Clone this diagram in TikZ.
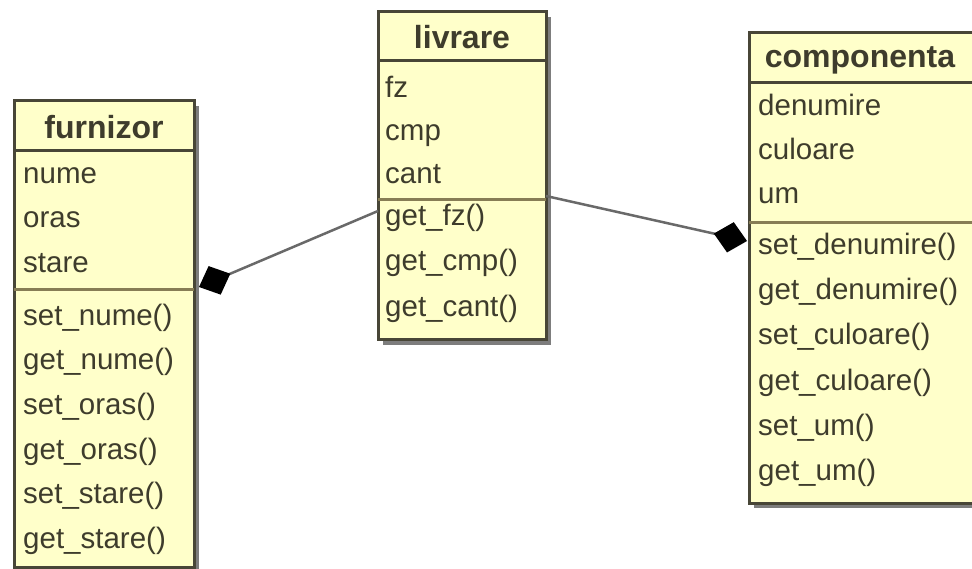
\documentclass[tikz,border=0pt]{standalone}
\usepackage{fontspec}
\setmainfont{Liberation Sans}
\usetikzlibrary{arrows.meta}

\definecolor{classfill}{RGB}{255,255,202}
\definecolor{boxline}{RGB}{72,70,55}
\definecolor{attrcol}{RGB}{135,125,85}
\definecolor{shadowgray}{RGB}{125,125,125}
\definecolor{textcol}{RGB}{62,60,44}
\definecolor{linecol}{RGB}{105,105,105}

\tikzset{
  classbox/.style={draw=boxline, line width=3pt, fill=classfill},
  shadowbox/.style={fill=shadowgray},
  headsep/.style={draw=boxline, line width=3pt},
  attrsep/.style={draw=attrcol, line width=3pt},
  header/.style={font=\fontsize{32}{38}\selectfont\bfseries, text=textcol, inner sep=0pt},
  row/.style={anchor=west, font=\fontsize{29.5}{35}\selectfont, text=textcol,
    inner sep=0pt, text height=21pt, text depth=6pt},
  comp/.style={draw=linecol, line width=2.5pt,
    -{Diamond[length=34pt,width=31pt,color=black]}}
}

\begin{document}
\begin{tikzpicture}[x=1pt,y=-1pt]
    \clip (0,0) rectangle (972,569);
    \fill[white] (0,0) rectangle (972,569);

    % furnizor
    \fill[shadowbox] (19,106) rectangle (199,572);
    \draw[classbox] (14,101) rectangle (194,567);
    \draw[headsep] (14,151) -- (194,151);
    \draw[attrsep] (14,290) -- (194,290);
    \node[header] (furnizor) at (104,127) {furnizor};
    \foreach \t [count=\i] in {nume,oras,stare}
        \node[row] (fa\i) at (23,{176+(\i-1)*44.5}) {\t};
    \foreach \t [count=\i] in {set\_nume(),get\_nume(),set\_oras(),get\_oras(),set\_stare(),get\_stare()}
        \node[row] (fm\i) at (23,{318+(\i-1)*44.5}) {\t};

    % livrare
    \fill[shadowbox] (383,17) rectangle (551,345);
    \draw[classbox] (378,12) rectangle (546,340);
    \draw[headsep] (378,61) -- (546,61);
    \draw[attrsep] (378,200) -- (546,200);
    \node[header] (livrare) at (462,37) {livrare};
    \foreach \t [count=\i] in {fz,cmp,cant}
        \node[row] (la\i) at (385,{90+(\i-1)*43}) {\t};
    \foreach \t [count=\i] in {get\_fz(),get\_cmp(),get\_cant()}
        \node[row] (lm\i) at (385,{218+(\i-1)*45.5}) {\t};

    % componenta
    \fill[shadowbox] (754,38) rectangle (995,508);
    \draw[classbox] (749,33) rectangle (990,503);
    \draw[headsep] (749,83) -- (990,83);
    \draw[attrsep] (749,223) -- (990,223);
    \node[header] (componenta) at (860,60) {componenta};
    \foreach \t [count=\i] in {denumire,culoare,um}
        \node[row] (ca\i) at (758,{108+(\i-1)*44}) {\t};
    \foreach \t [count=\i] in {set\_denumire(),get\_denumire(),set\_culoare(),get\_culoare(),set\_um(),get\_um()}
        \node[row] (cm\i) at (758,{247+(\i-1)*45.2}) {\t};

    % composition links
    \coordinate (livW) at (378,211);
    \coordinate (livE) at (546,196);
    \coordinate (furE) at (199,287);
    \coordinate (compW) at (747,241);
    \draw[comp] (livW) -- (furE);
    \draw[comp] (livE) -- (compW);
\end{tikzpicture}
\end{document}
